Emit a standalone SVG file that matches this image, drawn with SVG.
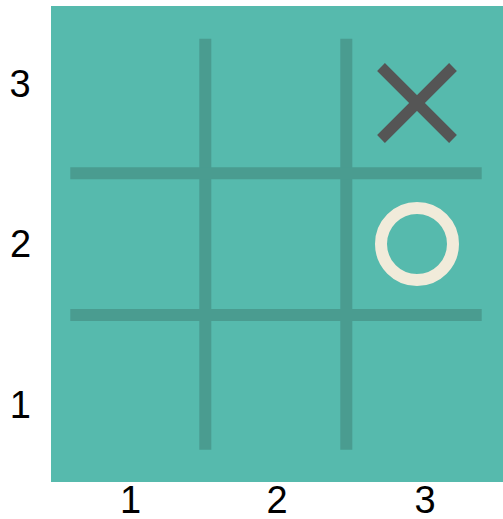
<svg xmlns="http://www.w3.org/2000/svg" width="503" height="519" viewBox="0 0 503 519">
<style>
.lbl{font-family:"Liberation Sans",Arial,sans-serif;font-size:38px;fill:#000;text-anchor:middle}
.grid{stroke:#4A9C90;stroke-width:12;fill:none}
</style>
<rect width="503" height="519" fill="#fff"/>
<g id="board">
<rect x="51" y="6" width="452" height="476" fill="#56BAAD"/>
</g>
<g id="grid">
<line class="grid" x1="205.3" y1="38.7" x2="205.3" y2="449.7"/>
<line class="grid" x1="346.3" y1="38.7" x2="346.3" y2="449.7"/>
<line class="grid" x1="70.3" y1="173.3" x2="481.7" y2="173.3"/>
<line class="grid" x1="70.3" y1="315" x2="481.7" y2="315"/>
</g>
<g id="mark-x">
<line x1="381" y1="67" x2="453" y2="139" stroke="#555555" stroke-width="11"/>
<line x1="453" y1="67" x2="381" y2="139" stroke="#555555" stroke-width="11"/>
</g>
<g id="mark-o">
<circle cx="417" cy="244" r="36" fill="none" stroke="#F1EBDA" stroke-width="12"/>
</g>
<g id="labels">
<text class="lbl" x="20" y="96.7">3</text>
<text class="lbl" x="20.5" y="256.7">2</text>
<text class="lbl" x="20.3" y="418.3">1</text>
<text class="lbl" x="130.5" y="513.3">1</text>
<text class="lbl" x="277" y="513.3">2</text>
<text class="lbl" x="425" y="513.3">3</text>
</g>
</svg>
